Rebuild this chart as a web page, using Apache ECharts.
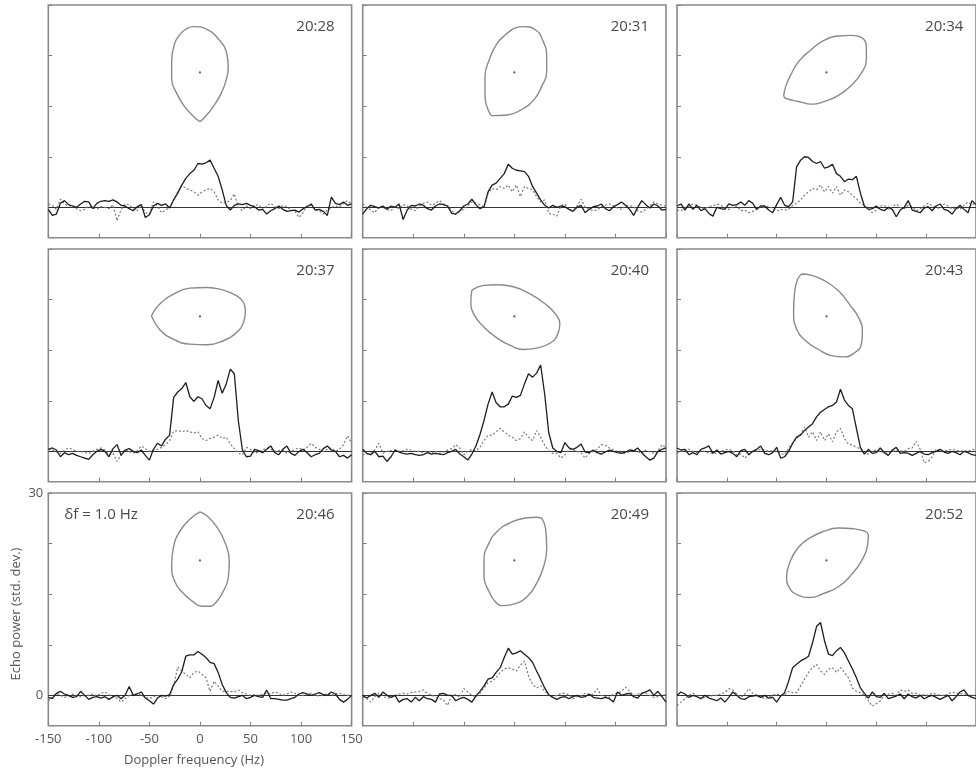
<!DOCTYPE html>
<html><head><meta charset="utf-8">
<script src="https://cdn.jsdelivr.net/npm/echarts@6/dist/echarts.min.js"></script>
<style>html,body{margin:0;padding:0;background:#fff}#c{width:976px;height:771px}</style>
</head><body><div id="c"></div>
<script>
// ---------------- DATA ----------------
const freq = [-150,-146,-142,-138,-134,-130,-126,-122,-118,-114,-110,-106,-102,-98,-94,-90,-86,-82,-78,-74,-70,-66,-62,-58,-54,-50,-46,-42,-38,-34,-30,-26,-22,-18,-14,-10,-6,-2,2,6,10,14,18,22,26,30,34,38,42,46,50,54,58,62,66,70,74,78,82,86,90,94,98,102,106,110,114,118,122,126,130,134,138,142,146,150];
const times = ['20:28','20:31','20:34','20:37','20:40','20:43','20:46','20:49','20:52'];
const xTickValues = [-150,-100,-50,0,50,100,150];
const yTickValues = [0,7.5,15,22.5,30];
const yLabelValues = [0,30];
const resolutionLabel = 'δf = 1.0 Hz';
const xTitle = 'Doppler frequency (Hz)';
const yTitle = 'Echo power (std. dev.)';

const solid2028 = [-0.3,-1.2,-1.0,0.6,1.0,0.4,0.2,0.0,0.5,0.9, 0.8,-0.2,0.6,0.9,1.0,0.9,1.1,0.8,0.3,0.2, -0.2,-0.5,0.1,0.4,-1.5,-1.1,0.2,0.6,0.3,0.5, -0.1,1.1,2.1,3.3,4.3,5.0,5.5,6.5,6.4,6.6, 7.0,5.8,4.6,2.6,0.3,-0.4,0.3,0.5,0.4,0.6, 0.3,0.1,-0.4,-0.3,-1.0,-0.5,-0.2,0.2,-0.3,-0.6, -0.5,-0.4,-0.7,-0.2,0.1,0.5,-0.4,-0.3,-0.6,-1.2, 1.5,0.6,0.4,0.8,0.3,0.5];
const dotted2028 = [0.5,0.3,-0.3,1.2,0.5,0.2,0.3,-0.2,-0.5,-0.3, 0.2,0.0,-0.3,0.1,0.0,-0.2,0.4,-2.0,-0.3,0.5, 0.4,-0.2,-0.5,0.3,-0.8,-1.0,0.8,0.2,-0.8,-0.4, 0.0,1.1,2.3,3.3,2.8,2.6,2.3,1.8,2.3,2.6, 2.8,2.3,1.1,0.6,0.8,1.0,2.0,0.0,-0.5,0.2, -0.2,0.3,0.4,-0.3,0.2,0.6,0.1,-0.2,0.3,0.1, -0.4,-0.6,-1.5,-0.8,0.2,0.3,-0.3,-0.5,-1.0,-0.4, 0.0,0.2,0.0,0.6,1.0,0.5];

const solid2031 = [-1.0,-0.2,0.3,0.1,-0.1,0.2,-0.3,0.2,0.0,0.5, -1.8,-0.4,0.3,0.2,0.5,0.3,-0.2,-0.4,0.2,0.5, 0.4,0.2,-0.9,-1.0,-0.5,0.2,0.5,1.2,0.4,-0.2, 0.1,2.3,3.3,3.6,4.3,5.0,6.4,5.8,5.5,5.4, 5.3,4.6,3.1,2.1,1.1,0.3,-0.1,0.3,0.0,0.2, 0.1,-0.3,-0.6,0.0,0.3,-0.8,-0.3,0.1,0.2,0.5, -0.2,-0.5,0.1,0.4,0.8,0.3,-0.3,-1.2,0.0,1.0, 0.4,-0.1,0.5,0.2,-0.4,-0.3];
const dotted2031 = [0.5,0.0,-0.4,-0.8,0.2,0.0,-0.3,-0.5,0.1,-0.2, 0.4,0.2,-0.3,-0.5,0.2,0.6,0.8,0.3,0.6,1.0, 0.5,0.2,-0.5,-1.0,-0.6,-0.3,0.3,0.8,0.6,0.4, 0.0,2.1,2.8,2.6,3.1,2.8,3.3,2.3,3.3,1.6, 3.1,2.8,2.6,1.6,0.8,1.1,-0.9,-1.0,-1.3,0.2, 0.5,-0.3,-0.5,0.2,1.2,0.0,-0.3,-0.5,-0.4,0.1, 0.3,0.5,0.2,-0.1,-0.3,0.2,0.3,0.1,-0.5,-0.7, -0.3,0.2,0.8,0.5,0.3,0.2];

const solid2034 = [0.2,0.5,-0.4,0.5,-0.3,0.3,-0.5,-0.2,-0.9,-1.3, 0.0,-0.2,-0.3,0.5,0.3,0.4,0.8,0.3,1.0,0.6, -0.3,0.2,0.2,-0.4,-0.8,0.4,1.5,0.3,0.1,0.8, 6.0,7.0,7.5,7.4,6.8,6.5,6.8,5.8,6.0,6.4, 5.0,4.6,3.8,4.2,4.1,4.6,2.1,0.2,-0.3,-0.2, 0.2,-0.3,-0.5,0.0,-0.3,-1.4,-0.4,0.0,1.0,-0.4, -0.6,-0.8,-0.1,0.1,-0.5,0.2,0.5,-0.3,-0.5,-1.0, -0.2,0.3,-0.3,-0.8,1.0,0.4];
const dotted2034 = [-0.4,-0.5,-0.2,0.2,0.5,0.3,0.0,-0.2,0.1,0.2, 0.5,0.3,-0.1,-0.3,0.0,0.2,-0.5,-0.4,-0.8,-0.6, -0.3,0.1,0.0,0.2,-0.2,-0.5,-0.3,-0.4,-0.3,0.3, 0.6,1.1,1.8,2.3,2.8,2.6,3.3,2.3,3.1,2.1, 3.1,1.8,2.6,2.3,1.8,1.3,0.6,0.3,-0.3,-0.8, -0.4,0.2,0.3,-0.3,0.1,0.5,0.0,-0.2,0.3,0.1, -0.5,-0.2,0.2,0.6,0.3,0.0,-0.2,0.5,0.2,-0.3, 0.0,-0.3,0.3,0.8,0.4,0.6];

const solid2037 = [0.3,0.5,0.2,-0.8,-0.2,-0.5,-0.3,-0.6,-0.8,-1.0, -1.2,-0.5,0.0,0.3,0.0,-0.8,0.4,1.0,-0.6,0.2, 0.4,0.0,-0.2,0.2,-0.6,-1.3,0.3,1.2,0.8,1.8, 2.4,8.0,8.8,9.3,10.2,8.1,7.4,8.1,7.8,6.8, 6.3,8.0,10.5,8.6,10.0,12.2,11.5,4.5,0.2,-0.8, -0.7,0.3,0.1,-0.2,0.3,0.8,-0.2,-0.5,0.3,0.8, -0.3,-0.6,0.0,0.3,-0.2,-0.8,-0.5,-0.3,0.4,0.8, 0.2,0.0,-0.8,-0.6,-1.0,-0.5];
const dotted2037 = [0.3,0.2,-0.1,-0.3,0.2,0.5,0.3,0.0,0.0,-0.2, -0.3,0.0,0.3,0.5,0.2,-0.5,-0.3,-1.5,-0.5,0.2, 0.0,-0.3,0.1,0.8,0.4,0.0,0.2,0.3,0.6,1.0, 1.6,3.0,3.1,2.9,3.1,2.9,2.7,2.9,1.9,1.6, 1.9,2.1,2.4,1.9,2.1,1.1,0.4,-0.3,-0.5,0.6, 0.3,-0.3,-0.1,0.2,0.5,0.3,0.0,0.1,0.2,-0.3, 0.0,0.3,0.5,0.2,0.6,1.2,0.6,0.3,0.0,0.3, 0.5,0.0,0.3,1.0,2.3,1.2];

const solid2040 = [0.3,-0.3,-0.5,0.0,-0.8,-0.7,-1.5,-0.8,0.2,-0.1, -0.3,-0.4,-0.3,-0.5,-0.6,-0.5,-0.2,-0.4,-0.3,-0.4, -0.5,-0.2,0.0,0.3,-0.4,-0.8,-1.3,-0.4,0.8,2.5, 4.6,7.0,8.8,7.2,6.6,6.6,7.0,8.2,8.0,8.3, 10.0,11.5,11.0,11.6,12.8,8.5,2.8,0.5,0.0,-0.2, 1.3,0.5,0.3,0.6,1.1,-0.1,-0.2,0.2,-0.2,-0.4, -0.1,0.2,0.0,-0.2,-0.3,-0.1,0.2,0.1,0.5,-0.2, -0.8,-1.3,-1.0,0.0,0.3,0.5];
const dotted2040 = [-0.5,-0.4,-0.3,0.2,1.2,-0.3,0.0,0.1,0.2,0.0, 0.1,0.3,0.2,0.0,0.0,-0.2,0.1,-0.3,0.0,-0.3, -0.1,0.2,0.4,1.0,0.5,-0.5,0.0,0.3,0.1,0.6, 1.6,2.4,2.4,2.9,3.4,2.9,2.4,2.1,1.6,1.9, 2.9,2.1,1.6,3.1,2.1,0.9,0.1,-0.3,-0.3,-1.0, -0.5,0.3,0.2,0.0,-0.2,-1.0,-0.3,0.0,0.3,1.0, 0.9,0.5,0.2,0.0,-0.2,-0.3,0.0,0.2,0.0,-0.3, 0.2,-0.1,-0.3,0.0,1.0,0.5];

const solid2043 = [0.5,0.2,0.3,-0.5,-0.2,-0.5,0.3,0.5,0.8,-0.3, 0.2,-0.4,-0.2,0.0,-0.3,-0.8,0.1,0.3,-0.5,0.0, 0.3,0.8,-0.3,-0.5,-0.2,0.6,-1.0,-0.8,0.0,1.2, 2.1,2.4,3.1,3.6,4.1,5.1,5.8,6.2,6.6,6.8, 7.3,9.2,7.6,6.8,6.3,3.4,0.6,-0.4,0.3,-0.3, -0.2,0.5,-0.2,-0.6,0.2,0.6,-0.3,-0.2,-0.3,-0.6, -0.3,0.0,-0.4,-0.5,-0.2,0.0,0.3,-0.1,-0.3,0.0, -0.2,-0.5,0.0,-0.2,-0.5,-0.6];
const dotted2043 = [-0.3,0.0,0.2,0.3,0.0,-0.2,0.1,0.0,-0.3,-0.2, -0.3,0.0,0.2,0.3,0.1,-0.6,-0.4,-1.0,-0.5,0.0, 0.1,0.3,0.2,0.0,0.1,0.0,-0.3,-0.5,0.5,1.2, 1.9,2.6,3.6,2.1,2.9,1.6,2.9,1.6,2.6,1.4, 2.9,3.4,1.9,1.1,0.9,0.6,0.4,-0.3,-0.4,0.0, 0.2,0.0,-0.2,-0.3,0.0,0.2,0.1,0.0,0.4,0.5, 1.5,0.3,-1.7,-1.5,-0.8,0.3,0.1,0.0,0.2,0.3, 0.2,0.0,0.1,0.0,0.3,0.2];

const solid2046 = [-0.3,-0.5,0.3,0.6,0.2,0.0,-0.3,-0.2,0.6,0.0, -0.6,-0.3,-0.2,-0.4,-0.2,-0.6,-0.2,0.0,-0.5,0.0, 1.3,0.0,0.2,0.5,-0.4,-0.8,-1.3,-0.4,0.0,-0.1, 0.1,1.6,2.4,3.5,5.8,6.0,6.0,6.5,6.1,5.6, 4.9,4.7,3.4,1.6,0.4,-0.3,-0.4,-0.2,0.0,-0.5, -0.3,0.0,-0.2,-0.3,0.8,-0.5,-0.5,-0.6,-0.7,-0.7, -0.5,-0.3,0.2,0.4,0.2,0.0,0.2,0.4,0.1,0.0, 0.5,0.2,-0.6,-1.0,-0.6,0.0];
const dotted2046 = [-0.8,-0.3,0.3,0.0,-0.3,-0.1,0.2,0.0,-0.2,0.0, 0.0,0.2,-0.1,0.3,0.5,0.1,-0.3,-0.4,-1.0,-0.5, 0.0,0.2,0.3,0.0,-0.2,-0.5,-0.2,0.0,-0.2,-0.5, -0.1,1.4,4.2,3.6,3.1,2.6,3.4,3.6,3.1,2.6, 0.6,2.1,1.4,0.6,0.6,0.6,0.5,0.8,0.4,0.2, 0.0,0.1,0.0,0.2,0.3,0.2,0.5,0.3,0.0,0.2, 0.5,0.3,0.0,0.0,0.2,0.3,0.0,-0.1,0.0,0.3, 0.0,0.2,0.3,0.1,0.0,0.0];

const solid2049 = [0.0,-0.4,0.0,0.3,-0.3,0.5,0.0,-0.3,0.0,-1.0, -0.6,-0.5,-1.0,-0.3,-0.8,-0.2,-0.5,-0.6,-1.0,0.2, 0.3,0.0,0.0,-0.8,-0.5,-0.3,-0.6,-1.0,-0.1,0.6, 1.4,2.4,2.6,3.4,4.1,5.6,7.0,6.1,6.3,6.6, 6.1,5.6,4.9,3.6,2.4,1.1,0.1,-0.3,-0.6,-0.3, -0.2,-0.5,-0.2,0.0,-0.3,-0.2,0.2,-0.3,-0.4,-0.5, -0.3,-0.5,-1.0,0.5,0.0,0.2,0.3,-0.2,-0.4,0.3, 0.5,0.8,0.0,0.6,-0.2,-1.0];
const dotted2049 = [-0.3,-0.5,-1.0,-0.2,0.3,0.0,-0.5,-0.3,0.0,0.2, 0.3,0.2,0.4,0.5,0.6,0.8,0.3,0.0,-0.2,-0.5, -0.7,-1.5,0.0,0.1,-0.3,1.0,0.5,0.0,-0.2,0.3, 1.1,1.9,2.1,2.6,3.4,3.9,4.1,3.9,3.6,4.5, 5.1,2.9,1.6,1.1,1.4,0.6,0.1,-0.3,0.0,0.3, 0.3,0.1,-0.5,-0.2,0.0,0.3,0.1,0.2,1.0,0.0, -0.2,-0.3,0.2,0.3,0.6,1.2,0.6,0.0,0.2,0.3, 0.3,0.0,-0.3,-0.2,0.0,0.1];

const solid2052 = [0.0,0.5,0.2,-0.3,0.0,-0.2,-0.5,0.0,-0.4,-0.6, -0.8,-0.4,-1.0,-0.3,0.5,0.0,-0.5,-0.6,-0.2,-0.1, 0.0,-0.3,0.0,-0.4,-0.3,-1.0,-0.1,0.4,2.1,4.1, 4.6,5.1,5.4,5.8,7.8,10.2,10.8,8.1,6.1,5.9, 6.6,7.1,6.3,5.1,3.9,2.6,1.1,0.3,-0.4,0.5, -0.2,-0.3,0.3,-0.5,-0.3,-0.1,0.2,-0.5,0.2,-0.2, -0.4,0.0,-0.5,-0.2,0.0,-0.3,-0.6,-0.3,0.0,-0.8, -0.2,0.5,0.8,0.0,-0.3,-0.5];
const dotted2052 = [-1.5,-1.0,-0.5,0.0,0.3,0.0,-0.5,-0.3,-0.2,0.0, 0.0,0.2,0.4,1.0,0.8,0.2,-0.3,0.2,1.0,0.3, 0.0,-0.2,-0.5,-0.3,0.0,0.2,0.0,0.1,0.6,0.4, 0.4,1.4,2.4,3.4,4.1,4.6,3.6,3.1,3.9,4.1, 3.4,4.1,3.4,2.6,1.1,0.6,0.4,0.0,-0.8,-1.6, -1.2,-0.8,0.0,0.2,0.3,0.0,0.8,0.6,0.8,0.3, 0.3,0.0,0.1,0.0,0.3,0.2,0.0,0.0,0.2,0.5, 0.3,0.2,0.3,0.0,0.0,0.1];

// plane-of-sky outlines, [Doppler Hz, std. dev.] pairs, starting at the pointed end
const shape2028 = [[0,12.7],[-5,13.3],[-15,14.9],[-23,16.9],[-28,19.1],[-28,21.6],[-26,23.8],[-20,25.6],[-13,26.5],[-7,26.8],[7,26.4],[18,25.0],[26,23.1],[28,20.8],[26,18.9],[21,16.9],[13,14.9],[5,13.4],[0,12.7]];
const shape2031 = [[-23,13.6],[-29,16.4],[-29,19.4],[-25,21.8],[-17,24.3],[-7,25.8],[1,26.6],[9,26.8],[21,26.3],[28,24.8],[32,22.3],[32,20.1],[27,17.9],[19,15.9],[6,14.4],[-7,13.7],[-23,13.6]];
const shape2034 = [[-43,16.5],[-41,17.9],[-36,19.6],[-28,21.6],[-16,23.3],[-3,24.7],[12,25.4],[25,25.5],[35,25.2],[40,23.8],[40,21.8],[35,19.9],[25,18.1],[12,16.6],[-2,15.7],[-15,15.3],[-28,15.7],[-40,16.1],[-43,16.5]];
const shape2037 = [[-48,20.1],[-40,21.8],[-26,23.3],[-10,24.2],[7,24.3],[23,23.9],[36,23.1],[43,22.1],[45,20.8],[43,19.1],[36,17.6],[23,16.4],[7,15.8],[-10,15.9],[-26,16.6],[-40,18.1],[-48,20.1]];
const shape2040 = [[-42,23.9],[-30,24.6],[-17,24.7],[-1,24.4],[16,23.3],[31,21.8],[41,20.3],[45,18.9],[43,17.4],[36,16.1],[22,15.3],[9,15.1],[-4,15.7],[-17,16.8],[-30,18.4],[-40,20.3],[-43,22.3],[-42,23.9]];
const shape2043 = [[-25,26.3],[-15,26.1],[-2,25.3],[12,23.8],[23,21.8],[33,19.6],[36,17.6],[35,15.9],[28,14.6],[17,14.0],[5,14.2],[-8,15.1],[-21,16.4],[-30,18.1],[-33,20.6],[-32,23.6],[-29,25.5],[-25,26.3]];
const shape2046 = [[0,27.2],[7,26.6],[17,24.9],[25,22.6],[29,19.9],[28,17.4],[23,15.4],[17,14.0],[10,13.2],[2,13.2],[-7,13.9],[-17,15.2],[-25,16.9],[-28,19.4],[-26,22.1],[-20,24.3],[-10,26.1],[0,27.2]];
const shape2049 = [[27,26.3],[31,24.6],[32,21.8],[29,19.1],[22,16.6],[13,14.7],[1,13.6],[-11,13.3],[-19,13.9],[-25,15.4],[-30,17.6],[-30,20.1],[-25,22.6],[-17,24.3],[-4,25.6],[11,26.3],[22,26.4],[27,26.3]];
const shape2052 = [[42,23.8],[41,22.1],[35,19.9],[25,17.9],[12,16.1],[-3,15.1],[-17,14.5],[-29,14.9],[-37,15.9],[-40,17.6],[-37,19.6],[-29,21.8],[-17,23.3],[-3,24.3],[12,24.8],[27,24.7],[39,24.3],[42,23.8]];
const shapeCenter = [0, 20];

const solids = [solid2028, solid2031, solid2034, solid2037, solid2040, solid2043, solid2046, solid2049, solid2052];
const dotteds = [dotted2028, dotted2031, dotted2034, dotted2037, dotted2040, dotted2043, dotted2046, dotted2049, dotted2052];
const shapes = [shape2028, shape2031, shape2034, shape2037, shape2040, shape2043, shape2046, shape2049, shape2052];

// ---------------- LAYOUT / STYLE ----------------
const colLeft = [48.3, 362.7, 677];
const rowTop = [5, 249, 493];
const W = 303.3, H = 232.7;
const FONT = '"Open Sans", "Noto Sans", sans-serif';
const frameColor = '#8a8a8a';
const textColor = '#4a4a4a';

const grids = [], xAxes = [], yAxes = [], series = [], graphics = [];
for (let p = 0; p < 9; p++) {
  const r = Math.floor(p / 3), c = p % 3;
  const labelled = (p === 6);
  grids.push({left: colLeft[c], top: rowTop[r], width: W, height: H, show: true,
    borderColor: frameColor, borderWidth: 1.6, backgroundColor: 'transparent', containLabel: false});
  xAxes.push({type: 'value', gridIndex: p, min: xTickValues[0], max: xTickValues[xTickValues.length - 1], interval: 50, position: 'bottom',
    axisLine: {show: false, onZero: false}, splitLine: {show: false},
    axisTick: {show: true, inside: true, length: 4, lineStyle: {color: '#808080', width: 1}},
    axisLabel: {show: labelled, color: '#555', fontSize: 13, fontFamily: FONT, margin: 7, showMinLabel: true, showMaxLabel: true}
  });
  yAxes.push({type: 'value', gridIndex: p, min: -4.5, max: 30, position: 'left',
    axisLine: {show: false, onZero: false}, splitLine: {show: false},
    axisTick: {show: true, inside: true, length: 4, lineStyle: {color: '#808080', width: 1}, customValues: yTickValues},
    axisLabel: {show: labelled, customValues: yLabelValues, color: '#555', fontSize: 13, fontFamily: FONT, margin: 5, showMinLabel: true, showMaxLabel: true}
  });
  series.push({type: 'line', xAxisIndex: p, yAxisIndex: p, showSymbol: false, silent: true,
    data: freq.map((f, i) => [f, dotteds[p][i]]),
    lineStyle: {color: '#7a7a7a', width: 1.2, type: [2, 2]}, z: 3});
  series.push({type: 'line', xAxisIndex: p, yAxisIndex: p, showSymbol: false, silent: true,
    data: freq.map((f, i) => [f, solids[p][i]]),
    lineStyle: {color: '#1e1e1e', width: 1.3}, z: 4,
    markLine: {silent: true, symbol: ['none', 'none'], label: {show: false},
      lineStyle: {color: '#333333', width: 1, type: 'solid'}, data: [{yAxis: 0}], z: 2}});
  series.push({type: 'line', xAxisIndex: p, yAxisIndex: p, showSymbol: false, silent: true,
    data: shapes[p], smooth: 0.5,
    lineStyle: {color: '#8a8a8a', width: 1.4}, z: 5});
  series.push({type: 'scatter', xAxisIndex: p, yAxisIndex: p, silent: true,
    data: [shapeCenter], symbolSize: 2.2, itemStyle: {color: '#333'}, z: 6});
  graphics.push({type: 'text', x: colLeft[c] + W - 17, y: rowTop[r] + 22,
    style: {text: times[p], font: '15px ' + FONT, fill: textColor,
      textAlign: 'right', align: 'right', textVerticalAlign: 'middle', verticalAlign: 'middle'}});
}
graphics.push({type: 'text', x: colLeft[0] + 16, y: rowTop[2] + 21.5,
  style: {text: resolutionLabel, font: '15px ' + FONT, fill: textColor,
    textAlign: 'left', align: 'left', textVerticalAlign: 'middle', verticalAlign: 'middle'}});
graphics.push({type: 'text', x: 194, y: 760,
  style: {text: xTitle, font: '13px ' + FONT, fill: '#555',
    textAlign: 'center', align: 'center', textVerticalAlign: 'middle', verticalAlign: 'middle'}});
graphics.push({type: 'text', x: 16, y: 614, rotation: Math.PI / 2,
  style: {text: yTitle, font: '13px ' + FONT, fill: '#555',
    textAlign: 'center', align: 'center', textVerticalAlign: 'middle', verticalAlign: 'middle'}});

const chart = echarts.init(document.getElementById('c'), null, {renderer: 'canvas'});
chart.setOption({animation: false, backgroundColor: '#ffffff',
  grid: grids, xAxis: xAxes, yAxis: yAxes, series: series, graphic: {elements: graphics}});
</script></body></html>
